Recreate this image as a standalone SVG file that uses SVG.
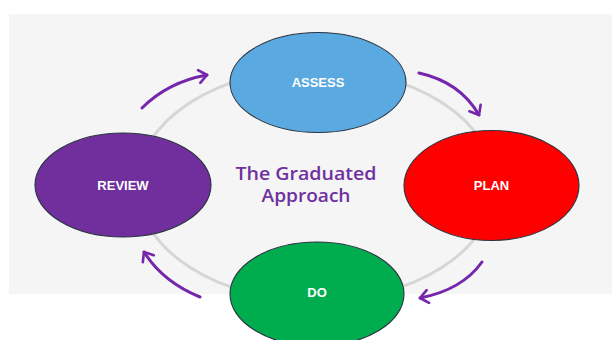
<svg xmlns="http://www.w3.org/2000/svg" width="612" height="340" viewBox="0 0 612 340">
<style>
.node{stroke:#2b3340;stroke-width:1.1}
.lbl{font-family:"Liberation Sans",Arial,sans-serif;font-weight:bold;font-size:13px;fill:#ffffff;text-anchor:middle}
.arrow{fill:none;stroke:#7526ab;stroke-width:3;stroke-linecap:round;marker-end:url(#chev)}
.title{font-family:"Open Sans","DejaVu Sans",sans-serif;font-weight:600;font-size:18px;fill:#7030a0;text-anchor:middle}
</style>
<defs>
<marker id="chev" markerUnits="userSpaceOnUse" markerWidth="16" markerHeight="16" viewBox="0 0 16 16" refX="13" refY="8" orient="auto">
<path d="M5,1.5 L13,8 L5,14.5" fill="none" stroke="#7526ab" stroke-width="2.6" stroke-linecap="round" stroke-linejoin="round"/>
</marker>
</defs>
<rect x="0" y="0" width="612" height="340" fill="#ffffff"/>
<rect x="9" y="14" width="603" height="280" fill="#f5f5f5"/>
<ellipse cx="316" cy="185" rx="179" ry="116" fill="none" stroke="#d6d6d6" stroke-width="3"/>
<text class="title" x="306" y="180" textLength="141" lengthAdjust="spacingAndGlyphs">The Graduated</text>
<text class="title" x="306" y="202" textLength="89" lengthAdjust="spacingAndGlyphs">Approach</text>
<g id="connectors">
<path class="arrow" d="M142,108 Q168,82 207,75"/>
<path class="arrow" d="M419,73 Q460,82 479,115"/>
<path class="arrow" d="M482,262 Q462,290 420,298"/>
<path class="arrow" d="M200,297 Q163,282 144,252"/>
</g>
<g id="assess">
<ellipse class="node" cx="318" cy="82.5" rx="88" ry="50" fill="#5aa9e0"/>
<text class="lbl" x="318" y="87">ASSESS</text>
</g>
<g id="plan">
<ellipse class="node" cx="491.5" cy="185.5" rx="87.5" ry="55" fill="#ff0000"/>
<text class="lbl" x="491.5" y="190">PLAN</text>
</g>
<g id="do">
<ellipse class="node" cx="317" cy="294" rx="87" ry="52" fill="#00ad4e"/>
<text class="lbl" x="317" y="297">DO</text>
</g>
<g id="review">
<ellipse class="node" cx="123" cy="185" rx="88" ry="52" fill="#702f9d"/>
<text class="lbl" x="123" y="190">REVIEW</text>
</g>
</svg>
